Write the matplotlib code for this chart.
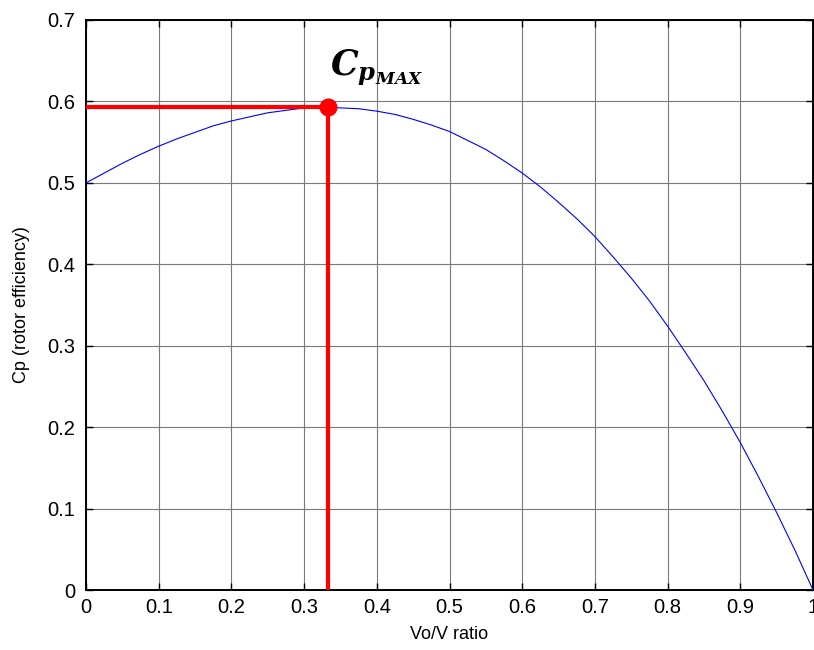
import matplotlib
matplotlib.use('Agg')
import matplotlib.pyplot as plt

# Vo/V ratio and rotor efficiency
ratio = [0.0, 0.025, 0.05, 0.075, 0.1, 0.125, 0.15, 0.175, 0.2, 0.225,
         0.25, 0.275, 0.3, 0.325, 0.35, 0.375, 0.4, 0.425, 0.45, 0.475,
         0.5, 0.525, 0.55, 0.575, 0.6, 0.625, 0.65, 0.675, 0.7, 0.725,
         0.75, 0.775, 0.8, 0.825, 0.85, 0.875, 0.9, 0.925, 0.95, 0.975, 1.0]
cp = [0.500, 0.512, 0.524, 0.535, 0.545, 0.554, 0.562, 0.570, 0.576, 0.581,
      0.586, 0.589, 0.592, 0.593, 0.592, 0.591, 0.588, 0.584, 0.578, 0.571,
      0.563, 0.552, 0.541, 0.527, 0.512, 0.495, 0.476, 0.456, 0.434, 0.409,
      0.383, 0.355, 0.324, 0.291, 0.257, 0.220, 0.181, 0.139, 0.095, 0.049, 0.0]

# maximum point
cp_max_x = 0.333
cp_max_y = 0.593

xticks = [0, 0.1, 0.2, 0.3, 0.4, 0.5, 0.6, 0.7, 0.8, 0.9, 1]
xticklabels = ['0', '0.1', '0.2', '0.3', '0.4', '0.5', '0.6', '0.7', '0.8', '0.9', '1']
yticks = [0, 0.1, 0.2, 0.3, 0.4, 0.5, 0.6, 0.7]
yticklabels = ['0', '0.1', '0.2', '0.3', '0.4', '0.5', '0.6', '0.7']

plt.rcParams['font.family'] = ['Liberation Sans', 'DejaVu Sans']

fig = plt.figure(figsize=(8.14, 6.5), dpi=100)
ax = fig.add_axes([0.1057, 0.0923, 0.8931, 0.877])

ax.plot(ratio, cp, color='#0000ff', linewidth=0.8, zorder=3)

# red guide lines to the maximum
ax.plot([0, cp_max_x], [cp_max_y, cp_max_y], color='red', linewidth=3, zorder=4)
ax.plot([cp_max_x, cp_max_x], [0, cp_max_y], color='red', linewidth=3, zorder=4)
ax.plot([cp_max_x], [cp_max_y], 'o', color='red', markersize=12, zorder=5)

ax.text(0.4, 0.642, r'$\mathbfit{C}_{\mathbfit{p}_{\mathbfit{MAX}}}$',
        math_fontfamily='dejavuserif', fontsize=25, ha='center', va='center')

ax.set_xlim(0, 1)
ax.set_ylim(0, 0.7)
ax.set_xticks(xticks)
ax.set_xticklabels(xticklabels)
ax.set_yticks(yticks)
ax.set_yticklabels(yticklabels)
ax.tick_params(direction='in', top=True, right=True, length=5, width=1,
               labelsize=14.5)
ax.tick_params(axis='y', pad=8)
ax.tick_params(axis='x', pad=6)
ax.grid(True, color='#7a7a7a', linewidth=0.8)
ax.set_axisbelow(True)
for s in ax.spines.values():
    s.set_linewidth(1.4)

ax.set_xlabel('Vo/V ratio', fontsize=13, labelpad=6)
ax.set_ylabel('Cp (rotor efficiency)', fontsize=13, labelpad=12)

fig.savefig('out.png', dpi=100)
